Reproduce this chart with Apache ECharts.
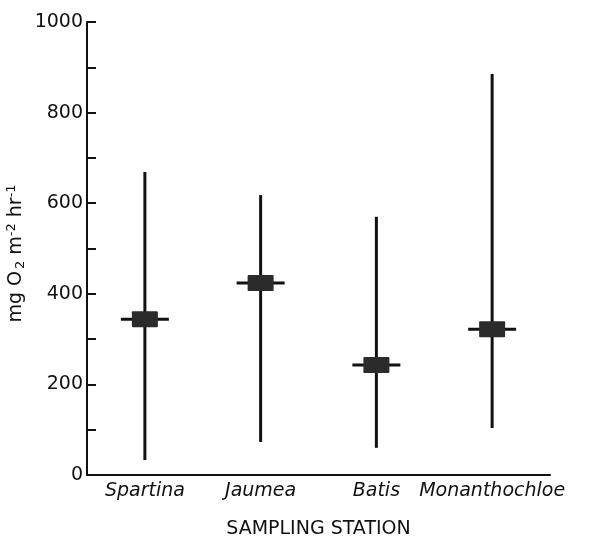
<!DOCTYPE html>
<html>
<head>
<meta charset="utf-8">
<script src="https://cdn.jsdelivr.net/npm/echarts@6/dist/echarts.min.js"></script>
<style>
  html, body { margin: 0; padding: 0; background: #fff; }
  #chart { width: 598px; height: 540px; }
</style>
</head>
<body>
<div id="chart"></div>
<script>
// stations along the x axis
const stations = ['Spartina', 'Jaumea', 'Batis', 'Monanthochloe']
// mean and range (mg O2 m-2 hr-1)
const means = [344, 424, 243, 322]
const lows = [33, 73, 60, 104]
const highs = [669, 618, 570, 885]
// labelled ticks on the y axis
const yTickLabels = [0, 200, 400, 600, 800, 1000]

const chart = echarts.init(document.getElementById('chart'))

const seriesData = stations.map((s, i) => [i, means[i], lows[i], highs[i]])

const option = {
  backgroundColor: '#fff',
  animation: false,
  // fixed plot box, no auto fitting of labels
  grid: { left: 87, right: 48, top: 22, bottom: 65, containLabel: false, outerBoundsMode: 'none' },
  xAxis: {
    type: 'category',
    data: stations,
    boundaryGap: true,
    axisLine: { lineStyle: { color: '#111', width: 2 } },
    axisTick: { show: false },
    axisLabel: {
      interval: 0,
      color: '#111',
      fontFamily: 'DejaVu Sans',
      fontStyle: 'italic',
      fontSize: 19,
      margin: 7
    },
    name: 'SAMPLING STATION',
    nameLocation: 'middle',
    nameGap: 45,
    nameMoveOverlap: false,
    nameTextStyle: {
      color: '#111',
      fontFamily: 'DejaVu Sans',
      fontSize: 19
    }
  },
  yAxis: {
    type: 'value',
    min: 0,
    max: 1000,
    interval: 100,
    splitLine: { show: false },
    axisLine: { show: true, lineStyle: { color: '#111', width: 2 } },
    axisTick: { show: true, inside: true, length: 9, lineStyle: { color: '#111', width: 2 } },
    axisLabel: {
      color: '#111',
      fontFamily: 'DejaVu Sans',
      fontSize: 19,
      margin: 4,
      formatter: v => (yTickLabels.indexOf(v) >= 0 ? String(v) : '')
    },
    name: 'mg O{sub|2} m{sup|-2} hr{sup|-1}',
    nameLocation: 'middle',
    nameGap: 60,
    nameRotate: 90,
    nameMoveOverlap: false,
    nameTextStyle: {
      color: '#111',
      fontFamily: 'DejaVu Sans',
      fontSize: 19,
      padding: [0, 10, 0, 0],
      rich: {
        sub: { fontSize: 13, fontFamily: 'DejaVu Sans', color: '#111', verticalAlign: 'bottom', padding: [9, 0, 0, 2] },
        sup: { fontSize: 13, fontFamily: 'DejaVu Sans', color: '#111', verticalAlign: 'top', padding: [0, 0, 9, 0] }
      }
    }
  },
  series: [
    {
      type: 'custom',
      data: seriesData,
      encode: { x: 0, y: [1, 2, 3] },
      renderItem: (params, api) => {
        const idx = api.value(0)
        const mean = api.coord([idx, api.value(1)])
        const low = api.coord([idx, api.value(2)])
        const high = api.coord([idx, api.value(3)])
        const x = mean[0]
        return {
          type: 'group',
          children: [
            {
              type: 'line',
              shape: { x1: x, y1: high[1], x2: x, y2: low[1] },
              style: { stroke: '#111', lineWidth: 3 }
            },
            {
              type: 'line',
              shape: { x1: x - 24, y1: mean[1], x2: x + 24, y2: mean[1] },
              style: { stroke: '#111', lineWidth: 3 }
            },
            {
              type: 'rect',
              shape: { x: x - 13, y: mean[1] - 8, width: 26, height: 16, r: 1 },
              style: { fill: '#2b2b2b' }
            }
          ]
        }
      }
    }
  ]
}

chart.setOption(option)
</script>
</body>
</html>
